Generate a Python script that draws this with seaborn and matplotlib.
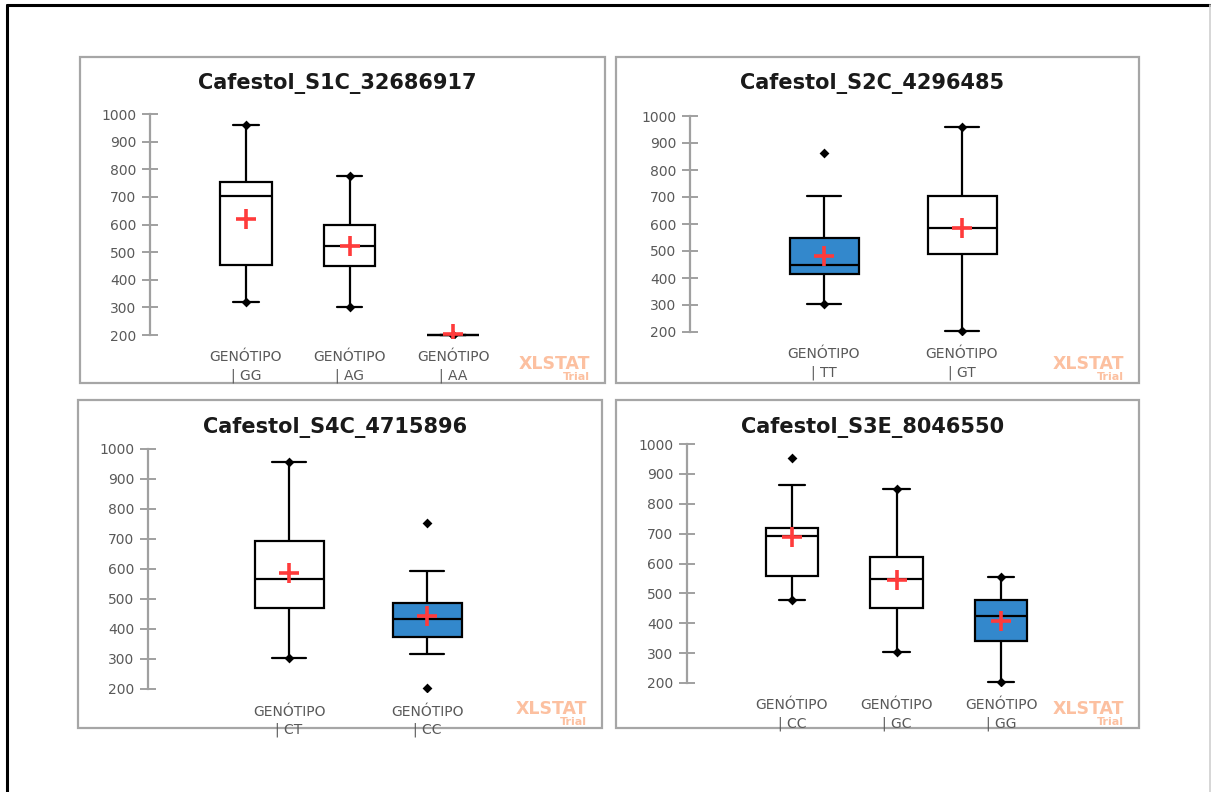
import pandas as pd
import seaborn as sns
import matplotlib.pyplot as plt
from matplotlib.patches import Rectangle
from matplotlib.lines import Line2D

# ---- data ----
s1c_title = "Cafestol_S1C_32686917"
s1c_cats = ["GG", "AG", "AA"]
s1c_low = [320, 303, 200]
s1c_q1 = [455, 449, 200]
s1c_med = [703, 523, 200]
s1c_q3 = [755, 598, 200]
s1c_high = [960, 774, 200]
s1c_mean = [619, 522, 202]
s1c_min = [320, 303, 200]
s1c_max = [960, 774, 200]
s1c_fill = ["white", "white", "white"]

s2c_title = "Cafestol_S2C_4296485"
s2c_cats = ["TT", "GT"]
s2c_low = [305, 203]
s2c_q1 = [413, 490]
s2c_med = [448, 586]
s2c_q3 = [548, 702]
s2c_high = [703, 960]
s2c_mean = [482, 587]
s2c_min = [305, 203]
s2c_max = [863, 960]
s2c_fill = ["#3388CC", "white"]

s4c_title = "Cafestol_S4C_4715896"
s4c_cats = ["CT", "CC"]
s4c_low = [305, 316]
s4c_q1 = [471, 375]
s4c_med = [567, 434]
s4c_q3 = [694, 486]
s4c_high = [957, 593]
s4c_mean = [586, 442]
s4c_min = [305, 204]
s4c_max = [957, 752]
s4c_fill = ["white", "#3388CC"]

s3e_title = "Cafestol_S3E_8046550"
s3e_cats = ["CC", "GC", "GG"]
s3e_low = [477, 305, 202]
s3e_q1 = [559, 451, 339]
s3e_med = [693, 548, 424]
s3e_q3 = [720, 623, 477]
s3e_high = [864, 848, 554]
s3e_mean = [690, 545, 407]
s3e_min = [477, 305, 202]
s3e_max = [954, 848, 554]
s3e_fill = ["white", "white", "#3388CC"]

yticks = [200, 300, 400, 500, 600, 700, 800, 900, 1000]

W, H = 1211, 792


def fx(px):
    return px / W


def fy(py):
    return 1 - py / H


sns.set_style("white")
plt.rcParams["font.family"] = ["DejaVu Sans"]

fig = plt.figure(figsize=(W / 100, H / 100), dpi=100)

# outer frame
fig.add_artist(Line2D([fx(7), fx(1211)], [fy(5), fy(5)], color="black", lw=2.2, transform=fig.transFigure))
fig.add_artist(Line2D([fx(7), fx(7)], [fy(5), fy(792)], color="black", lw=2.2, transform=fig.transFigure))
fig.add_artist(Line2D([fx(1210), fx(1210)], [fy(5), fy(792)], color="#D0D0D0", lw=1.2, transform=fig.transFigure))

# panel box (px), y axis x, first category x, category step, y of 1000, y of 200
layouts = [
    dict(box=(80, 57, 605, 383), axis_x=150, cat0=246, step=103.5, y1000=114, y200=335),
    dict(box=(616, 57, 1139, 383), axis_x=690, cat0=824, step=138, y1000=116, y200=332),
    dict(box=(78, 400, 602, 728), axis_x=148, cat0=289, step=138, y1000=449, y200=689),
    dict(box=(616, 400, 1139, 728), axis_x=687, cat0=792, step=104.5, y1000=444, y200=683),
]

panels = [
    (s1c_title, s1c_cats, s1c_low, s1c_q1, s1c_med, s1c_q3, s1c_high, s1c_mean, s1c_min, s1c_max, s1c_fill),
    (s2c_title, s2c_cats, s2c_low, s2c_q1, s2c_med, s2c_q3, s2c_high, s2c_mean, s2c_min, s2c_max, s2c_fill),
    (s4c_title, s4c_cats, s4c_low, s4c_q1, s4c_med, s4c_q3, s4c_high, s4c_mean, s4c_min, s4c_max, s4c_fill),
    (s3e_title, s3e_cats, s3e_low, s3e_q1, s3e_med, s3e_q3, s3e_high, s3e_mean, s3e_min, s3e_max, s3e_fill),
]

for lay, (title, cats, low, q1, med, q3, high, mean, vmin, vmax, fill) in zip(layouts, panels):
    x0, y0, x1, y1 = lay["box"]
    fig.add_artist(Rectangle((fx(x0), fy(y1)), (x1 - x0) / W, (y1 - y0) / H, transform=fig.transFigure,
                             facecolor="white", edgecolor="#A6A6A6", lw=1.6, zorder=-1))

    n = len(cats)
    ylo, yhi = 190, 1010
    ppu = (lay["y200"] - lay["y1000"]) / 800
    xl = (lay["axis_x"] - lay["cat0"]) / lay["step"]
    xr = n - 0.3
    left_px = lay["axis_x"]
    right_px = lay["cat0"] + xr * lay["step"]
    top_px = lay["y1000"] - (yhi - 1000) * ppu
    bot_px = lay["y200"] + (200 - ylo) * ppu
    ax = fig.add_axes([fx(left_px), fy(bot_px), (right_px - left_px) / W, (bot_px - top_px) / H])
    ax.set_facecolor("none")

    # five values per group give exact quartiles; whis=(0, 100) puts whiskers on them
    rows = []
    for i, c in enumerate(cats):
        for v in (low[i], q1[i], med[i], q3[i], high[i]):
            rows.append({"cat": c, "value": v})
    df = pd.DataFrame(rows)
    sns.boxplot(data=df, x="cat", y="value", hue="cat", order=cats, hue_order=cats,
                palette=dict(zip(cats, fill)), saturation=1, width=0.5, whis=(0, 100),
                linecolor="black", linewidth=1.6, legend=False, ax=ax)

    ext = pd.DataFrame({"cat": cats + cats, "value": vmin + vmax})
    sns.stripplot(data=ext, x="cat", y="value", order=cats, jitter=False, marker="D",
                  color="black", size=5, linewidth=0, zorder=4, ax=ax)

    sns.pointplot(x=cats, y=mean, order=cats, color="#FF3B3B", marker="+", linestyle="none",
                  errorbar=None, markersize=14, markeredgewidth=2.6, zorder=5, ax=ax)

    ax.set_xlim(xl, xr)
    ax.set_ylim(ylo, yhi)
    ax.set_yticks(yticks)
    ax.set_xticks(range(n))
    ax.set_xticklabels([f"GENÓTIPO\n| {c}" for c in cats], linespacing=1.35)
    ax.set_xlabel("")
    ax.set_ylabel("")
    for s in ["top", "right", "bottom"]:
        ax.spines[s].set_visible(False)
    ax.spines["left"].set_color("#A0A0A0")
    ax.spines["left"].set_linewidth(1.6)
    ax.spines["left"].set_bounds(200, 1000)
    ax.tick_params(axis="y", left=True, direction="inout", length=12, width=1.4, color="#A0A0A0",
                   labelcolor="#595959", labelsize=10, pad=4)
    ax.tick_params(axis="x", bottom=False, length=0, labelcolor="#595959", labelsize=10, pad=9)
    ax.grid(False)

    fig.text(fx((x0 + x1) / 2 - 5), fy(y0 + 27), title, ha="center", va="center",
             fontsize=15, fontweight="bold", color="#1A1A1A")
    fig.text(fx(x1 - 15), fy(y1 - 19), "XLSTAT", ha="right", va="center",
             fontsize=12.5, fontweight="bold", color="#FCC0A0")
    fig.text(fx(x1 - 15), fy(y1 - 6), "Trial", ha="right", va="center",
             fontsize=8, fontweight="bold", color="#FCC0A0")

fig.savefig("out.png", dpi=100)
